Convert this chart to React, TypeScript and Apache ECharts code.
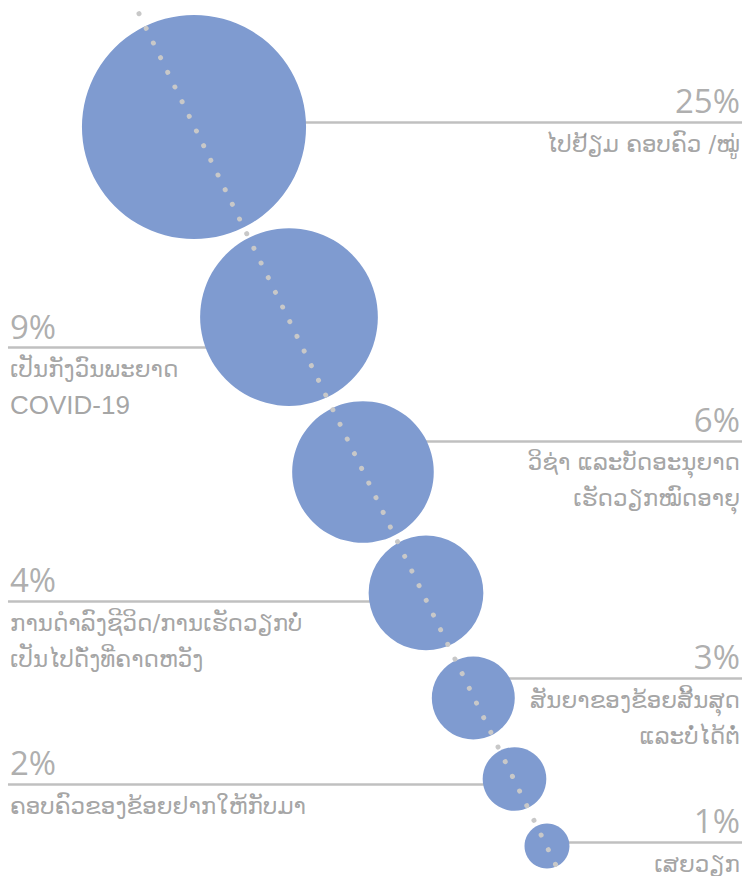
import React, { useEffect, useRef } from "react";
import * as echarts from "echarts";

// Reasons (Lao), share of respondents
const categories = [
  "ໄປຢ້ຽມ ຄອບຄົວ /ໝູ່",
  "ເປັນກັງວົນພະຍາດ\nCOVID-19",
  "ວິຊ່າ ແລະບັດອະນຸຍາດ\nເຮັດວຽກໝົດອາຍຸ",
  "ການດຳລົງຊີວິດ/ການເຮັດວຽກບໍ່\nເປັນໄປດັ່ງທີ່ຄາດຫວັງ",
  "ສັນຍາຂອງຂ້ອຍສິ້ນສຸດ\nແລະບໍ່ໄດ້ຕໍ່",
  "ຄອບຄົວຂອງຂ້ອຍຢາກໃຫ້ກັບມາ",
  "ເສຍວຽກ",
];
const percents = [25, 9, 6, 4, 3, 2, 1];
// relative bubble area as drawn
const bubbleWeight = [24.8, 15.6, 9.9, 6.5, 3.4, 2.0, 1.0];
// bubble centres in layout units (0-100 on both axes)
const bubbleX = [26.04, 38.79, 48.72, 57.18, 63.53, 69.06, 73.42];
const bubbleY = [14.5, 36.19, 53.88, 67.69, 79.68, 88.93, 96.58];
// label side and leader line height (layout units)
const labelSide = ["right", "left", "right", "left", "right", "left", "right"];
const leaderY = [13.93, 39.67, 50.34, 68.61, 77.45, 89.5, 96.12];
// dotted trend guide
const trendLine = [
  [18.66, 1.56],
  [74.58, 98.7],
];
const lineOuterRight = 99.6;
const lineOuterLeft = 1.07;
const textRight = 99.33;
const textLeft = 1.34;

export default function App() {
  const ref = useRef<HTMLDivElement>(null);
  useEffect(() => {
    document.body.style.margin = "0";
    const chart = echarts.init(ref.current!, undefined, { renderer: "svg" });
    const pctColor = "#999999";
    const txtColor = "#8e8e8e";
    const pctFont = "'Open Sans', 'Liberation Sans', sans-serif";

    const leaders = percents.map((_, i) => ({
      coords: [
        [bubbleX[i], leaderY[i]],
        [labelSide[i] === "right" ? lineOuterRight : lineOuterLeft, leaderY[i]],
      ],
    }));

    const richText = (s: string) =>
      s
        .split("\n")
        .map((ln) => (/^[\x00-\x7F]+$/.test(ln) ? `{lat|${ln}}` : `{lao|${ln}}`))
        .join("\n");

    const anchors = percents.map((p, i) => {
      const right = labelSide[i] === "right";
      return {
        value: [right ? textRight : textLeft, leaderY[i]],
        pct: p,
        cat: categories[i],
        align: right ? "right" : "left",
      };
    });

    chart.setOption({
      animation: false,
      grid: { left: 0, right: 0, top: 0, bottom: 0 },
      xAxis: { type: "value", min: 0, max: 100, show: false },
      yAxis: { type: "value", min: 0, max: 100, inverse: true, show: false },
      series: [
        {
          type: "lines",
          coordinateSystem: "cartesian2d",
          z: 1,
          silent: true,
          lineStyle: { color: "#c0c0c0", width: 2.5, opacity: 1 },
          data: leaders,
        },
        {
          type: "scatter",
          z: 2,
          silent: true,
          data: percents.map((p, i) => ({
            value: [bubbleX[i], bubbleY[i], bubbleWeight[i]],
          })),
          symbolSize: (v: number[]) => 45 * Math.sqrt(v[2]),
          itemStyle: { color: "#7f9bd0", opacity: 1 },
        },
        {
          type: "line",
          z: 3,
          silent: true,
          showSymbol: false,
          data: trendLine,
          lineStyle: {
            color: "#c8c8c8",
            width: 5,
            type: [0.001, 16.33],
            cap: "round",
          },
        },
        {
          type: "scatter",
          z: 4,
          silent: true,
          symbolSize: 1,
          itemStyle: { color: "rgba(0,0,0,0)" },
          data: anchors.map((a) => ({
            value: a.value,
            label: {
              show: true,
              position: "top",
              distance: 4,
              align: a.align,
              verticalAlign: "bottom",
              formatter: a.pct + "%",
              fontSize: 33,
              lineHeight: 34,
              fontFamily: pctFont,
              color: pctColor,
            },
          })),
        },
        {
          type: "scatter",
          z: 4,
          silent: true,
          symbolSize: 1,
          itemStyle: { color: "rgba(0,0,0,0)" },
          data: anchors.map((a) => ({
            value: a.value,
            label: {
              show: true,
              position: "bottom",
              distance: 3,
              align: a.align,
              verticalAlign: "top",
              formatter: richText(a.cat),
              color: txtColor,
              rich: {
                lao: {
                  fontSize: 23,
                  lineHeight: 36,
                  fontFamily: "'DejaVu Sans', sans-serif",
                  color: txtColor,
                  align: a.align,
                },
                lat: {
                  fontSize: 26,
                  lineHeight: 36,
                  fontFamily: "'Liberation Sans', Arial, sans-serif",
                  color: txtColor,
                  align: a.align,
                },
              },
            },
          })),
        },
      ],
    });
    return () => chart.dispose();
  }, []);
  return <div ref={ref} style={{ width: 745, height: 876 }} />;
}
